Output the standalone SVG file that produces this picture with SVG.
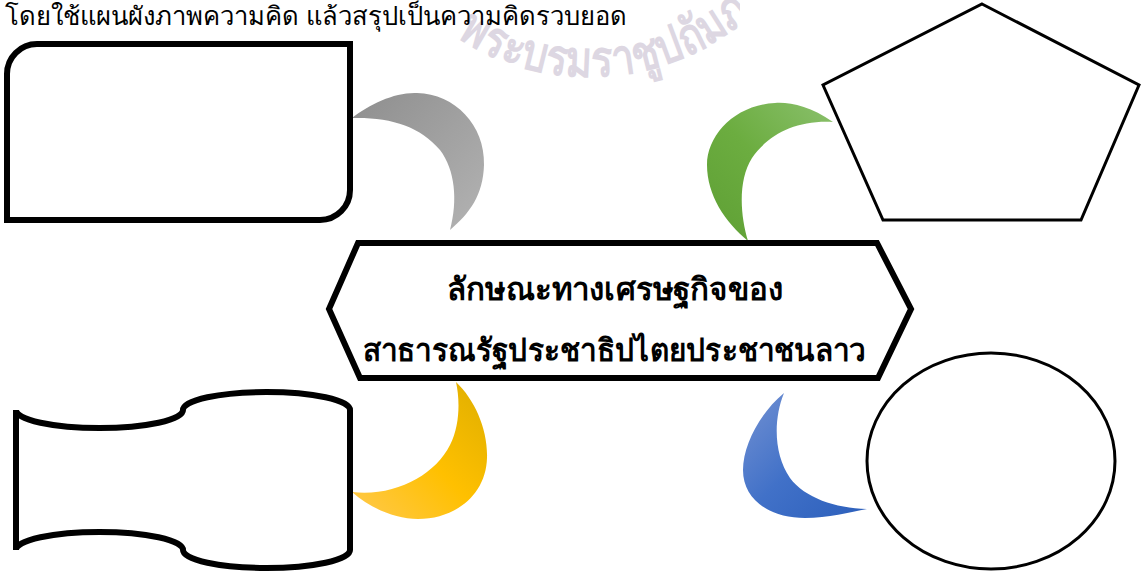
<svg xmlns="http://www.w3.org/2000/svg" width="1141" height="571" viewBox="0 0 1141 571">
  <style>
    .title { font-family: "Noto Sans", "DejaVu Sans", sans-serif; font-size: 25.6px; fill: #000; }
    .center { font-family: "Noto Sans", "DejaVu Sans", sans-serif; font-size: 31px; font-weight: bold; fill: #000; text-anchor: middle; }
    .wm { font-family: "Liberation Serif", "Noto Serif", serif; font-size: 50px; font-weight: bold; fill: #ddd7e2; }
    .thick { fill: #fff; stroke: #000; stroke-width: 6; stroke-linejoin: miter; }
    .thin { fill: #fff; stroke: #000; stroke-width: 3; }
  </style>
  <defs>
    <path id="wmArc" d="M400,-14 A243,243 0 0 0 780,-15"/>
    <clipPath id="wmClip">
      <rect x="0" y="0" width="740" height="100"/>
    </clipPath>
    <linearGradient id="gGray" x1="0" y1="0" x2="1" y2="1">
      <stop offset="0" stop-color="#8e8e8e"/>
      <stop offset="1" stop-color="#b3b3b3"/>
    </linearGradient>
    <linearGradient id="gGreen" x1="1" y1="0" x2="0" y2="1">
      <stop offset="0" stop-color="#8ac06c"/>
      <stop offset="0.5" stop-color="#6cad40"/>
      <stop offset="1" stop-color="#5e9f34"/>
    </linearGradient>
    <linearGradient id="gYellow" x1="1" y1="0" x2="0" y2="1">
      <stop offset="0" stop-color="#deae00"/>
      <stop offset="0.5" stop-color="#ffc000"/>
      <stop offset="1" stop-color="#ffc94e"/>
    </linearGradient>
    <linearGradient id="gBlue" x1="0" y1="0" x2="1" y2="1">
      <stop offset="0" stop-color="#7391d2"/>
      <stop offset="0.5" stop-color="#4171c8"/>
      <stop offset="1" stop-color="#2c5fbb"/>
    </linearGradient>
  </defs>

  <g clip-path="url(#wmClip)">
    <text class="wm"><textPath href="#wmArc" startOffset="76" textLength="318" lengthAdjust="spacingAndGlyphs">พระบรมราชูปถัมภ์</textPath></text>
  </g>

  <text class="title" x="5" y="25">โดยใช้แผนผังภาพความคิด แล้วสรุปเป็นความคิดรวบยอด</text>

  <g id="connectors">
    <path id="arc-gray" fill="url(#gGray)" d="M352,118 C370,104 395,92 417,93 C455,94 485,125 484,165 C483,195 470,213 450,230 C458,200 455,170 440,150 C420,126 390,117 352,118 Z"/>
    <path id="arc-green" fill="url(#gGreen)" d="M833,122 C810,106 790,102 775,103 C735,105 707,135 707,165 C707,195 725,222 748,241 C740,215 738,180 752,158 C768,135 795,120 833,122 Z"/>
    <path id="arc-yellow" fill="url(#gYellow)" d="M456,382 C475,400 488,430 487,458 C486,495 455,519 418,519 C395,519 370,508 352,492 C395,497 435,475 450,445 C460,425 460,400 456,382 Z"/>
    <path id="arc-blue" fill="url(#gBlue)" d="M784,393 C760,413 743,445 743,470 C743,500 770,518 805,518 C828,518 850,512 867,509 C835,508 805,498 790,478 C774,455 773,420 784,393 Z"/>
  </g>

  <g id="node-roundrect">
    <path class="thick" d="M37,44 H350 V190 A30,30 0 0 1 320,220 H7 V74 A30,30 0 0 1 37,44 Z"/>
  </g>

  <g id="node-pentagon">
    <polygon class="thin" points="982,4 1139,85 1081,220 883,220 823,85"/>
  </g>

  <g id="node-center">
    <polygon class="thick" points="358,243 877,243 911,309 878,378 360,378 329,309"/>
    <text class="center" x="615" y="300" textLength="336" lengthAdjust="spacingAndGlyphs">ลักษณะทางเศรษฐกิจของ</text>
    <text class="center" x="614" y="361" textLength="503" lengthAdjust="spacingAndGlyphs">สาธารณรัฐประชาธิปไตยประชาชนลาว</text>
  </g>

  <g id="node-tape">
    <path class="thick" d="M16,410 A83.5,18 0 0 0 183,410 A83.5,18 0 0 1 350,410 V550 A83.5,18 0 0 1 183,550 A83.5,18 0 0 0 16,550 Z"/>
  </g>

  <g id="node-ellipse">
    <ellipse class="thin" cx="991" cy="461" rx="124" ry="108"/>
  </g>
</svg>
